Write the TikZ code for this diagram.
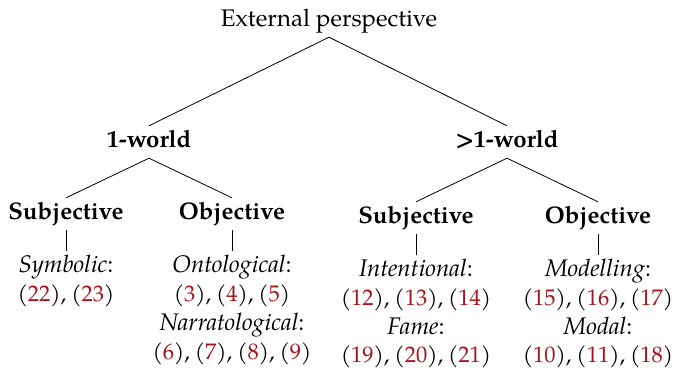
\documentclass[tikz,border=0pt]{standalone}
\usepackage{fontspec}
\setmainfont{TeX Gyre Pagella}
\definecolor{refred}{RGB}{165,20,25}
\newcommand{\rf}[1]{(\textcolor{refred}{#1})}
\newcommand{\numfnt}{\fontsize{22.5}{30}\selectfont\spaceskip=0.22em\relax}
\begin{document}
\begin{tikzpicture}[x=1pt,y=-1pt,
  lbl/.style={anchor=base, inner sep=4pt, text height=17pt, text depth=7pt, font=\fontsize{24}{30}\selectfont},
  hd/.style={lbl, font=\fontsize{24}{30}\selectfont\bfseries},
  txt/.style={anchor=base, inner sep=0pt, font=\fontsize{24}{30}\selectfont},
  num/.style={anchor=base, inner sep=0pt, font=\numfnt},
  edge/.style={line width=0.8pt}]
\useasboundingbox (0,0) rectangle (676,370);
% root
\node[lbl] (root) at (329,26) {External perspective};
% level 1
\node[hd] (one) at (149,147) {1-world};
\node[hd] (many) at (507,147) {>1-world};
% level 2
\node[hd] (subA) at (66,219) {Subjective};
\node[hd] (objA) at (232,219) {Objective};
\node[hd] (subB) at (416,223) {Subjective};
\node[hd] (objB) at (598,223) {Objective};
% leaves
\node[lbl] (symb) at (66,272) {\textit{Symbolic}:};
\node[num] (symbN) at (66,301) {\rf{22}, \rf{23}};
\node[lbl] (onto) at (232,272) {\textit{Ontological}:};
\node[num] (ontoN) at (232,301) {\rf{3}, \rf{4}, \rf{5}};
\node[txt] (narr) at (232,330) {\textit{Narratological}:};
\node[num] (narrN) at (232,359) {\rf{6}, \rf{7}, \rf{8}, \rf{9}};
\node[lbl] (inten) at (416,276) {\textit{Intentional}:};
\node[num] (intenN) at (416,305) {\rf{12}, \rf{13}, \rf{14}};
\node[txt] (fame) at (416,334) {\textit{Fame}:};
\node[num] (fameN) at (416,362) {\rf{19}, \rf{20}, \rf{21}};
\node[lbl] (model) at (598,276) {\textit{Modelling}:};
\node[num] (modelN) at (598,305) {\rf{15}, \rf{16}, \rf{17}};
\node[txt] (modal) at (598,334) {\textit{Modal}:};
\node[num] (modalN) at (598,362) {\rf{10}, \rf{11}, \rf{18}};
% edges
\draw[edge] (one.north) -- (root.south) -- (many.north);
\draw[edge] (subA.north) -- (one.south) -- (objA.north);
\draw[edge] (subB.north) -- (many.south) -- (objB.north);
\draw[edge] (subA.south) -- (symb.north);
\draw[edge] (objA.south) -- (onto.north);
\draw[edge] (subB.south) -- (inten.north);
\draw[edge] (objB.south) -- (model.north);
\end{tikzpicture}
\end{document}
